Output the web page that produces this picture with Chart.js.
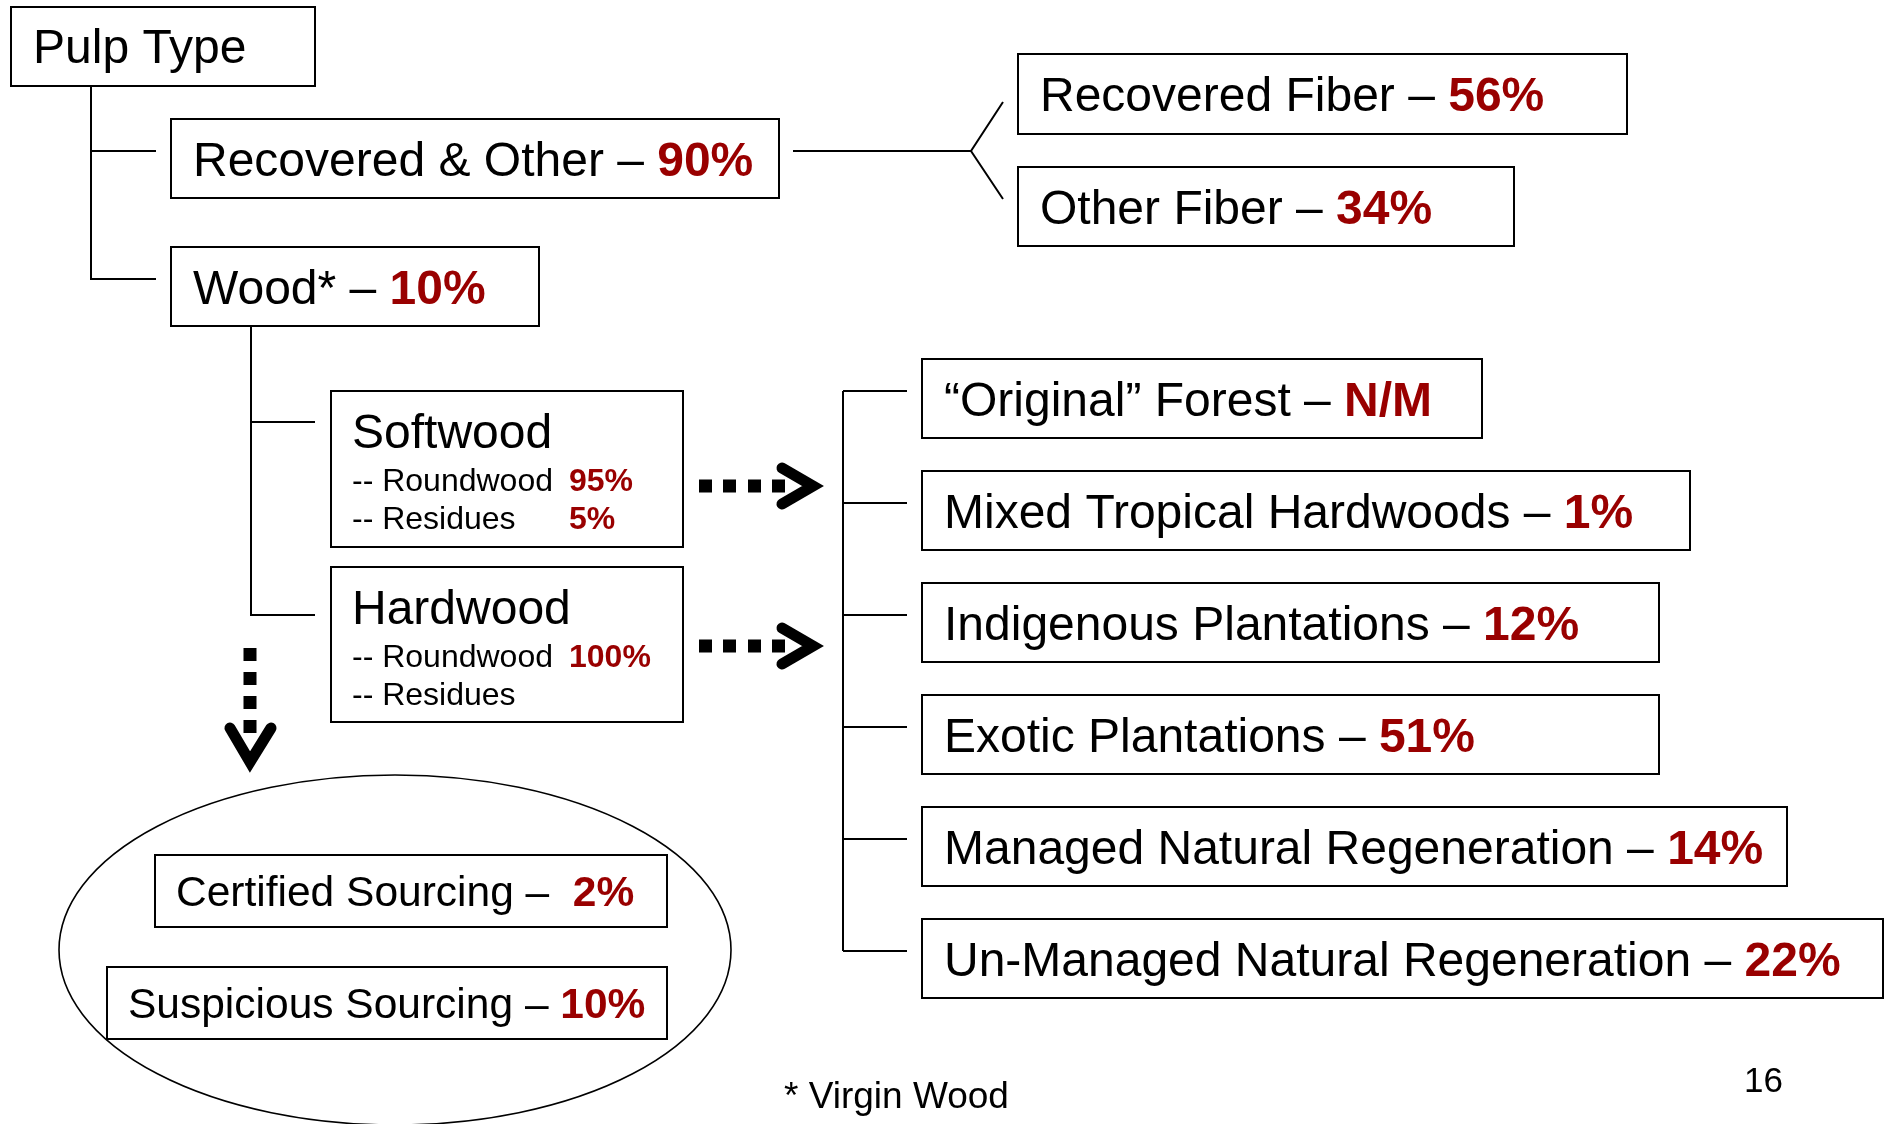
<!DOCTYPE html>
<html><head><meta charset="utf-8">
<script src="https://cdn.jsdelivr.net/npm/chart.js@4/dist/chart.umd.min.js"></script>
<style>html,body{margin:0;padding:0;background:#fff;overflow:hidden}#wrap{width:1887px;height:1124px;position:relative}</style>
</head><body><div id="wrap"><canvas id="c" width="1887" height="1124"></canvas></div>
<script>
// ---------- DATA ----------
const rootLabel = 'Pulp Type';
const pulpCategories = ['Recovered & Other', 'Wood*'];
const pulpShares = ['90%', '10%'];
const recoveredCategories = ['Recovered Fiber', 'Other Fiber'];
const recoveredShares = ['56%', '34%'];
const woodTypes = ['Softwood', 'Hardwood'];
const woodSubCategories = ['Roundwood', 'Residues'];
const roundwoodShares = ['95%', '100%'];
const residueShares = ['5%', ''];
const forestCategories = ['\u201COriginal\u201D Forest', 'Mixed Tropical Hardwoods', 'Indigenous Plantations', 'Exotic Plantations', 'Managed Natural Regeneration', 'Un-Managed Natural Regeneration'];
const forestShares = ['N/M', '1%', '12%', '51%', '14%', '22%'];
const sourcingCategories = ['Certified Sourcing', 'Suspicious Sourcing'];
const sourcingShares = ['2%', '10%'];
const footnote = '* Virgin Wood';
const pageNumber = '16';

// ---------- LAYOUT (scale units) ----------
const FONT = "'Liberation Sans', Arial, Helvetica, sans-serif";
const RED = '#990000';
const rootBox = {x: 11, y: 7, w: 304, h: 79};
const pulpBoxes = [{x: 171, y: 119, w: 608, h: 79}, {x: 171, y: 247, w: 368, h: 79}];
const recoveredBoxes = [{x: 1018, y: 54, w: 609, h: 80}, {x: 1018, y: 167, w: 496, h: 79}];
const woodBoxes = [{x: 331, y: 391, w: 352, h: 156}, {x: 331, y: 567, w: 352, h: 155}];
const forestTops = [359, 471, 583, 695, 807, 919];
const forestRights = [1482, 1690, 1659, 1659, 1787, 1883];
const sourcingBoxes = [{x: 155, y: 855, w: 512, h: 72}, {x: 107, y: 967, w: 560, h: 72}];
const ellipseSpec = {cx: 395, cy: 950, rx: 336, ry: 175};

const connectorPaths = [
  [[91, 86], [91, 279], [156, 279]],
  [[91, 151], [156, 151]],
  [[793, 151], [971, 151]],
  [[1003, 102], [971, 151], [1003, 199]],
  [[251, 326], [251, 615], [315, 615]],
  [[251, 422], [315, 422]],
  [[843, 391], [843, 951]],
  ...[391, 503, 615, 727, 839, 951].map(y => [[843, y], [907, y]])
];

const datasets = connectorPaths.map(p => ({
  data: p.map(([x, y]) => ({x, y})),
  showLine: true, borderColor: '#000', borderWidth: 2, pointRadius: 0, fill: false, tension: 0
}));

const diagramPlugin = {
  id: 'diagram',
  afterDatasetsDraw(chart) {
    const ctx = chart.ctx;
    const sx = chart.scales.x, sy = chart.scales.y;
    const X = v => sx.getPixelForValue(v);
    const Y = v => sy.getPixelForValue(v);
    ctx.save();
    function box(b, lw) {
      ctx.lineWidth = lw || 2; ctx.strokeStyle = '#000';
      ctx.strokeRect(X(b.x), Y(b.y), X(b.x + b.w) - X(b.x), Y(b.y + b.h) - Y(b.y));
    }
    function label(text, value, x, y, size, sep) {
      ctx.textBaseline = 'alphabetic'; ctx.textAlign = 'left';
      ctx.font = size + 'px ' + FONT; ctx.fillStyle = '#000';
      const t = text + (sep === undefined ? ' \u2013 ' : sep);
      ctx.fillText(t, X(x), Y(y));
      const w = ctx.measureText(t).width;
      if (value) {
        ctx.font = 'bold ' + size + 'px ' + FONT; ctx.fillStyle = RED;
        ctx.fillText(value, X(x) + w, Y(y));
      }
    }
    // ellipse
    ctx.beginPath();
    ctx.lineWidth = 1.6; ctx.strokeStyle = '#000';
    ctx.ellipse(X(ellipseSpec.cx), Y(ellipseSpec.cy), X(ellipseSpec.cx + ellipseSpec.rx) - X(ellipseSpec.cx), Y(ellipseSpec.cy + ellipseSpec.ry) - Y(ellipseSpec.cy), 0, 0, Math.PI * 2);
    ctx.stroke();

    // root
    box(rootBox);
    label(rootLabel, '', rootBox.x + 22, rootBox.y + 56, 48, '');
    pulpBoxes.forEach((b, i) => { box(b); label(pulpCategories[i], pulpShares[i], b.x + 22, b.y + 57, 48); });
    recoveredBoxes.forEach((b, i) => { box(b); label(recoveredCategories[i], recoveredShares[i], b.x + 22, b.y + 57, 48); });
    woodBoxes.forEach((b, i) => {
      box(b);
      label(woodTypes[i], '', b.x + 21, b.y + 57, 48, '');
      const rows = [roundwoodShares[i], residueShares[i]];
      woodSubCategories.forEach((s, j) => {
        ctx.font = '32px ' + FONT; ctx.fillStyle = '#000'; ctx.textAlign = 'left';
        const by = Y(b.y + 100 + j * 38);
        ctx.fillText('-- ' + s, X(b.x + 21), by);
        if (rows[j]) {
          ctx.font = 'bold 32px ' + FONT; ctx.fillStyle = RED;
          ctx.fillText(rows[j], X(b.x + 238), by);
        }
      });
    });
    forestCategories.forEach((c, i) => {
      const b = {x: 922, y: forestTops[i], w: forestRights[i] - 922, h: 79};
      box(b); label(c, forestShares[i], b.x + 22, b.y + 57, 48);
    });
    sourcingBoxes.forEach((b, i) => {
      ctx.fillStyle = '#fff';
      ctx.fillRect(X(b.x), Y(b.y), X(b.x + b.w) - X(b.x), Y(b.y + b.h) - Y(b.y));
      box(b);
      label(sourcingCategories[i], sourcingShares[i], b.x + 21, b.y + 51, 42.5, i === 0 ? ' \u2013  ' : ' \u2013 ');
    });

    // dotted arrows
    ctx.fillStyle = '#000'; ctx.strokeStyle = '#000';
    const sq = 13;
    [486, 646].forEach(cy => {
      [699, 723, 748, 772].forEach(x0 => ctx.fillRect(X(x0), Y(cy - sq / 2), X(x0 + sq) - X(x0), Y(cy + sq / 2) - Y(cy - sq / 2)));
      ctx.beginPath(); ctx.lineWidth = 11; ctx.lineCap = 'round'; ctx.lineJoin = 'miter';
      ctx.moveTo(X(782), Y(cy - 18)); ctx.lineTo(X(813), Y(cy)); ctx.lineTo(X(782), Y(cy + 18));
      ctx.stroke();
    });
    [648, 672, 696, 720].forEach(y0 => ctx.fillRect(X(250 - sq / 2), Y(y0), X(250 + sq / 2) - X(250 - sq / 2), Y(y0 + sq) - Y(y0)));
    ctx.beginPath(); ctx.lineWidth = 11; ctx.lineCap = 'round'; ctx.lineJoin = 'miter';
    ctx.moveTo(X(230), Y(728)); ctx.lineTo(X(250), Y(762)); ctx.lineTo(X(271), Y(728));
    ctx.stroke();

    // footnote & page number
    ctx.fillStyle = '#000'; ctx.textAlign = 'left';
    ctx.font = '37px ' + FONT;
    ctx.fillText(footnote, X(784), Y(1108));
    ctx.font = '35px ' + FONT;
    ctx.fillText(pageNumber, X(1744), Y(1092));
    ctx.restore();
  }
};

new Chart(document.getElementById('c'), {
  type: 'scatter',
  data: {datasets},
  options: {
    responsive: false, animation: false, events: [],
    layout: {padding: 0},
    plugins: {legend: {display: false}, tooltip: {enabled: false}},
    scales: {
      x: {type: 'linear', min: 0, max: 1887, display: false},
      y: {type: 'linear', min: 0, max: 1124, reverse: true, display: false}
    }
  },
  plugins: [diagramPlugin]
});
</script></body></html>
